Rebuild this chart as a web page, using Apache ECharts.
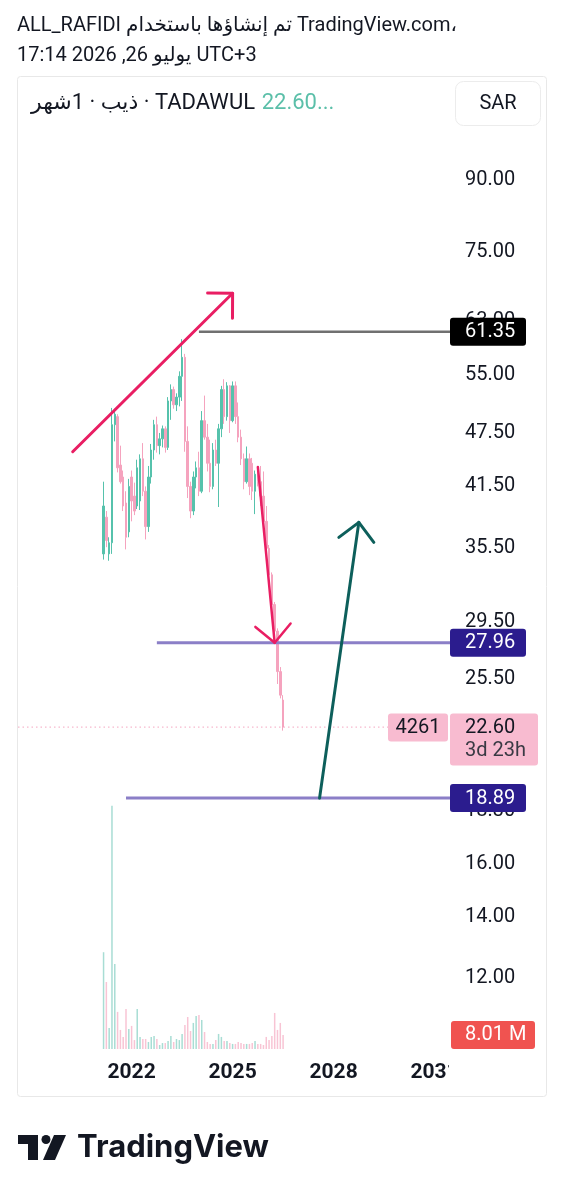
<!DOCTYPE html>
<html>
<head>
<meta charset="utf-8">
<script src="https://cdn.jsdelivr.net/npm/echarts@6/dist/echarts.min.js"></script>
<style>
  html, body { margin: 0; background: #fff; }
  #chart { width: 564px; height: 1199px; }
</style>
</head>
<body>
<div id="chart"></div>
<script>
// ---- data ----
const axisFirstYear = 2018, axisFirstMonth = 9, axisMonthCount = 154;
const candleStart = '2021-03';
// monthly [open, close, low, high]
const ohlc = [
  [35.0, 39.5, 34.5, 42.0], [38.4, 36.2, 35.6, 39.0], [35.0, 36.0, 34.4, 36.5], [36.0, 48.5, 35.0, 50.6],
  [48.5, 49.8, 46.5, 50.5], [49.5, 43.5, 43.0, 49.8], [43.8, 42.0, 41.8, 46.0], [42.5, 39.5, 39.0, 43.2],
  [39.8, 36.5, 35.4, 41.0], [37.0, 41.5, 36.5, 42.3], [42.5, 40.0, 38.0, 43.2], [40.5, 39.0, 38.6, 41.9],
  [39.5, 43.5, 39.2, 44.4], [40.0, 44.5, 39.1, 45.0], [44.5, 41.0, 40.5, 46.3], [41.0, 37.5, 36.3, 41.5],
  [37.5, 42.5, 37.0, 43.7], [42.5, 45.5, 41.8, 46.2], [45.5, 48.5, 44.4, 49.1], [48.5, 46.0, 45.2, 49.5],
  [46.0, 46.8, 45.0, 47.5], [46.8, 48.0, 45.8, 48.4], [48.0, 45.8, 45.2, 48.3], [45.8, 51.5, 45.5, 52.0],
  [51.5, 53.0, 49.1, 53.7], [53.0, 51.0, 50.5, 53.4], [51.0, 52.0, 50.2, 52.5], [52.0, 54.8, 50.8, 55.5],
  [54.8, 57.5, 51.5, 60.2], [57.5, 46.5, 45.3, 58.0], [46.5, 41.5, 40.3, 48.3], [41.5, 39.0, 38.3, 42.0],
  [39.0, 42.5, 38.6, 43.1], [42.5, 43.5, 41.3, 44.2], [43.5, 41.0, 40.5, 45.3], [41.0, 49.0, 40.8, 50.2],
  [49.0, 47.0, 46.7, 52.2], [47.0, 44.0, 43.1, 48.6], [44.0, 41.5, 40.9, 46.7], [41.5, 45.5, 41.2, 46.3],
  [45.5, 44.0, 43.7, 46.7], [44.0, 48.0, 39.4, 48.6], [48.0, 53.0, 47.0, 53.5], [53.0, 49.5, 48.6, 54.4],
  [49.5, 53.5, 49.0, 54.0], [53.5, 49.0, 47.5, 53.6], [49.0, 53.5, 48.8, 54.1], [53.5, 49.5, 48.6, 54.1],
  [49.5, 47.0, 46.4, 51.3], [47.0, 44.5, 43.8, 47.9], [44.5, 42.0, 41.2, 45.1], [42.0, 44.5, 41.8, 45.9],
  [44.5, 41.5, 40.6, 45.1], [44.0, 41.0, 40.1, 44.6], [41.0, 42.8, 38.7, 43.2], [42.8, 42.0, 41.5, 43.7],
  [42.0, 40.5, 39.5, 43.7], [40.5, 38.0, 37.4, 43.1], [38.0, 35.5, 35.1, 39.5], [35.5, 33.2, 32.8, 35.8],
  [33.2, 30.8, 30.5, 33.4], [30.8, 28.8, 28.5, 31.0], [28.8, 26.0, 25.2, 29.0], [26.0, 24.5, 24.3, 26.3],
  [24.2, 22.6, 22.4, 24.5]
];
// monthly volume, millions
const volumes = [
  55.3, 38.3, 12.0, 139.0, 48.6, 21.2, 10.9, 6.9, 22.9, 11.4, 13.2, 5.1, 22.9, 6.9, 5.7, 5.7,
  4.0, 6.9, 7.4, 5.7, 2.3, 3.4, 3.4, 4.6, 7.4, 4.0, 5.7, 5.1, 8.6, 13.7, 18.3, 10.3,
  14.9, 18.9, 19.4, 16.6, 9.7, 4.0, 2.9, 2.9, 5.1, 8.6, 6.9, 4.6, 4.6, 3.4, 2.9, 2.9,
  4.0, 3.4, 2.9, 2.9, 2.9, 3.4, 4.6, 2.9, 2.9, 2.3, 6.9, 5.1, 7.4, 20.6, 10.9, 14.9, 8.01
];
const priceTicks = [90, 75, 63, 55, 47.5, 41.5, 35.5, 29.5, 25.5, 18.3, 16, 14, 12];
const yearTicks = ['2022', '2025', '2028', '2031'];
const lastPrice = 22.60;
const tradeCount = '4261';
const timeLeft = '3d 23h';
// drawings: horizontal levels and arrows, in [month, price]
const levelPrices = [61.35, 27.96, 18.89];
const levelStarts = ['2024-01', '2022-10', '2021-11'];
const trendArrow = [['2020-04', 45.3], ['2025-01', 67.6]];
const dropArrow = [['2025-10', 43.6], ['2026-04', 27.96]];
const targetArrow = [['2027-08', 18.89], ['2028-10', 37.9]];

// ---- setup ----
const FONT = 'Roboto, "DejaVu Sans", sans-serif';
const INK = '#131722';
const UP = '#56c2ac', DOWN = '#f5a3be';
const UP_VOL = '#a8ddd4', DOWN_VOL = '#f8c4d4';

const months = [];
for (let i = 0; i < axisMonthCount; i++) {
  const n = axisFirstMonth - 1 + i;
  months.push((axisFirstYear + Math.floor(n / 12)) + '-' + String(n % 12 + 1).padStart(2, '0'));
}
const m = s => months.indexOf(s);
const k0 = m(candleStart);

const candleData = ohlc.map((c, k) => [k0 + k, c[0], c[1], c[2], c[3]]);
const volData = volumes.map((v, k) => ({
  value: [k0 + k, v],
  itemStyle: { color: ohlc[k][1] >= ohlc[k][0] ? UP_VOL : DOWN_VOL }
}));

const levelLine = ['#707070', '#8b7fc7', '#8b7fc7'];
const levelBadge = ['#000000', '#2b1c8e', '#2b1c8e'];
const arrowColor = ['#e91e63', '#e91e63', '#0d5f5b'];
const arrowWidth = [3, 2.5, 3];

const chart = echarts.init(document.getElementById('chart'));

chart.setOption({
  backgroundColor: '#fff',
  animation: false,
  grid: [
    { left: 18, right: 114, top: 135, bottom: 149 },
    { left: 18, right: 114, bottom: 150, height: 245 }
  ],
  xAxis: [
    {
      type: 'category', gridIndex: 0, data: months,
      axisLine: { show: false }, axisTick: { show: false },
      axisLabel: {
        interval: (i, v) => v.endsWith('-01') && yearTicks.includes(v.slice(0, 4)),
        formatter: v => v.slice(0, 4),
        color: INK, fontSize: 21, fontWeight: 'bold', fontFamily: FONT, margin: 12
      }
    },
    { type: 'category', gridIndex: 1, data: months, show: false },
    { type: 'value', gridIndex: 0, min: -0.5, max: axisMonthCount - 0.5, show: false }
  ],
  yAxis: [
    {
      type: 'log', gridIndex: 0, position: 'right', min: 10, max: 100.8,
      axisLine: { show: false }, axisTick: { show: false }, splitLine: { show: false },
      axisLabel: {
        customValues: priceTicks,
        formatter: v => Number(v).toFixed(2),
        color: INK, fontSize: 20, fontFamily: FONT, margin: 15
      }
    },
    { type: 'value', gridIndex: 1, min: 0, max: 140, show: false }
  ],
  series: [
    {
      type: 'bar', xAxisIndex: 1, yAxisIndex: 1, data: volData, barWidth: 1.5,
      encode: { x: 0, y: 1 }, silent: true
    },
    {
      type: 'candlestick', xAxisIndex: 0, yAxisIndex: 0, data: candleData, barWidth: 2,
      encode: { x: 0, y: [1, 2, 3, 4] }, silent: true,
      itemStyle: { color: UP, color0: DOWN, borderColor: UP, borderColor0: DOWN, borderWidth: 1 }
    },
    {
      // current price line, trade count and countdown
      type: 'custom', xAxisIndex: 2, yAxisIndex: 0, z: 8, clip: false, silent: true,
      data: [[0, lastPrice]],
      renderItem(params, api) {
        const cs = params.coordSys;
        const y = api.coord([0, api.value(1)])[1];
        const right = cs.x + cs.width;
        return { type: 'group', children: [
          { type: 'line', shape: { x1: cs.x, y1: y, x2: right - 62, y2: y },
            style: { stroke: '#f4a6c0', lineWidth: 1, lineDash: [1.5, 3] } },
          { type: 'rect', shape: { x: right - 62, y: y - 13.5, width: 60, height: 28, r: 3 },
            style: { fill: '#f8bbd0' } },
          { type: 'text', x: right - 32, y: y + 0.5,
            style: { text: tradeCount, fill: INK, font: '20px ' + FONT, align: 'center', verticalAlign: 'middle' } },
          { type: 'rect', shape: { x: right, y: y - 13.5, width: 88, height: 52, r: 3 },
            style: { fill: '#f8bbd0' } },
          { type: 'text', x: right + 15, y: y + 0.5,
            style: { text: api.value(1).toFixed(2), fill: INK, font: '20px ' + FONT, verticalAlign: 'middle' } },
          { type: 'text', x: right + 15, y: y + 24,
            style: { text: timeLeft, fill: '#3a3a44', font: '20px ' + FONT, verticalAlign: 'middle' } }
        ] };
      }
    },
    {
      // horizontal levels with their price badges
      type: 'custom', xAxisIndex: 2, yAxisIndex: 0, z: 9, clip: false, silent: true,
      data: levelPrices.map((p, i) => [m(levelStarts[i]), p]),
      renderItem(params, api) {
        const i = params.dataIndex;
        const cs = params.coordSys;
        const p = api.coord([api.value(0), api.value(1)]);
        const right = cs.x + cs.width;
        return { type: 'group', children: [
          { type: 'line', shape: { x1: p[0], y1: p[1], x2: right, y2: p[1] },
            style: { stroke: levelLine[i], lineWidth: i === 0 ? 2.5 : 3 } },
          { type: 'rect', shape: { x: right, y: p[1] - 14, width: 76, height: 28, r: 3 },
            style: { fill: levelBadge[i] } },
          { type: 'text', x: right + 15, y: p[1] + 0.5,
            style: { text: api.value(1).toFixed(2), fill: '#fff', font: '20px ' + FONT, verticalAlign: 'middle' } }
        ] };
      }
    },
    {
      // arrows
      type: 'custom', xAxisIndex: 2, yAxisIndex: 0, z: 10, clip: false, silent: true,
      data: [trendArrow, dropArrow, targetArrow].map(a => [m(a[0][0]), a[0][1], m(a[1][0]), a[1][1]]),
      renderItem(params, api) {
        const i = params.dataIndex;
        const a = api.coord([api.value(0), api.value(1)]);
        const b = api.coord([api.value(2), api.value(3)]);
        const ang = Math.atan2(a[1] - b[1], a[0] - b[0]);
        const arm = s => [b[0] + 25 * Math.cos(ang + s), b[1] + 25 * Math.sin(ang + s)];
        const st = { stroke: arrowColor[i], lineWidth: arrowWidth[i], fill: null, lineCap: 'round', lineJoin: 'round' };
        return { type: 'group', children: [
          { type: 'line', shape: { x1: a[0], y1: a[1], x2: b[0], y2: b[1] }, style: st },
          { type: 'polyline', shape: { points: [arm(Math.PI / 4), b, arm(-Math.PI / 4)] }, style: st }
        ] };
      }
    },
    {
      // volume badge
      type: 'custom', xAxisIndex: 1, yAxisIndex: 1, z: 10, clip: false, silent: true,
      data: [[volumes.length - 1 + k0, volumes[volumes.length - 1]]],
      renderItem(params, api) {
        const cs = params.coordSys;
        const y = api.coord([api.value(0), api.value(1)])[1];
        const right = cs.x + cs.width;
        return { type: 'group', children: [
          { type: 'rect', shape: { x: right + 1, y: y - 14, width: 84, height: 28, r: 3 },
            style: { fill: '#f05350' } },
          { type: 'text', x: right + 15, y: y + 0.5,
            style: { text: api.value(1).toFixed(2) + ' M', fill: '#fff', font: '20px ' + FONT, verticalAlign: 'middle' } }
        ] };
      }
    }
  ],
  graphic: [
    { type: 'rect', z: 100, shape: { x: 449, y: 1056, width: 96, height: 36 }, style: { fill: '#fff' } },
    { type: 'rect', z: 101, shape: { x: 17.5, y: 76.5, width: 529, height: 1020, r: 3 },
      style: { fill: 'rgba(0,0,0,0)', stroke: '#e8e8e8', lineWidth: 1 } },
    { type: 'text', x: 17, y: 26,
      style: { text: 'ALL_RAFIDI تم إنشاؤها باستخدام TradingView.com،', fill: INK, font: '20px ' + FONT, verticalAlign: 'middle' } },
    { type: 'text', x: 17, y: 56,
      style: { text: 'يوليو 26, 2026 17:14 UTC+3', fill: INK, font: '20px ' + FONT, verticalAlign: 'middle' } },
    { type: 'text', x: 31, y: 103,
      style: {
        text: '{a|ذيب · 1شهر · TADAWUL}  {b|22.60...}', verticalAlign: 'middle',
        rich: {
          a: { fill: INK, fontSize: 22, fontFamily: FONT },
          b: { fill: '#5bbfa9', fontSize: 22, fontFamily: FONT }
        }
      } },
    { type: 'rect', shape: { x: 455.5, y: 81.5, width: 85, height: 44, r: 8 },
      style: { fill: '#fff', stroke: '#ececec', lineWidth: 1 } },
    { type: 'text', x: 498, y: 104,
      style: { text: 'SAR', fill: INK, font: '20px ' + FONT, align: 'center', verticalAlign: 'middle' } },
    // TradingView logo
    { type: 'rect', shape: { x: 18, y: 1135, width: 20, height: 9 }, style: { fill: '#131722' } },
    { type: 'rect', shape: { x: 28, y: 1135, width: 10, height: 25 }, style: { fill: '#131722' } },
    { type: 'circle', shape: { cx: 46, cy: 1139.5, r: 4.5 }, style: { fill: '#131722' } },
    { type: 'polygon', shape: { points: [[54, 1135], [66, 1135], [55, 1160], [43, 1160]] }, style: { fill: '#131722' } },
    { type: 'text', x: 77, y: 1148,
      style: { text: 'TradingView', fill: '#131722', font: 'bold 31px Inter, Roboto, sans-serif', verticalAlign: 'middle' } }
  ]
});

window.addEventListener('resize', () => chart.resize());
</script>
</body>
</html>
